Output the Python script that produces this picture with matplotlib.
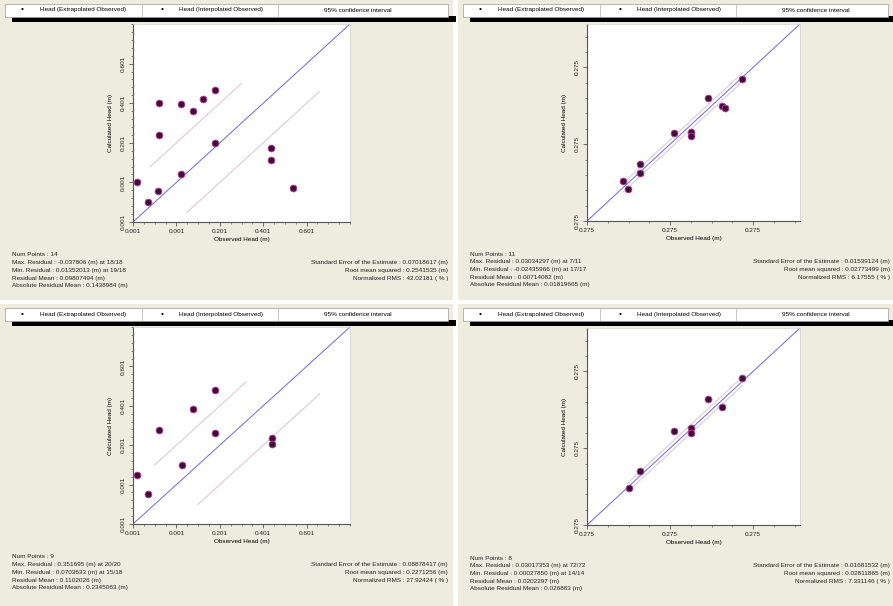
import matplotlib
matplotlib.use("Agg")
import matplotlib.pyplot as plt
from matplotlib.patches import Rectangle
from matplotlib.lines import Line2D
from matplotlib.ticker import FixedLocator, AutoMinorLocator

W, H = 893, 606

# observed vs calculated heads (normalised to each plot's axis range)
tl_obs = [0.017, 0.068, 0.117, 0.120, 0.120, 0.221, 0.221, 0.276, 0.324, 0.380, 0.380, 0.636, 0.636, 0.739]
tl_calc = [0.200, 0.100, 0.155, 0.440, 0.600, 0.240, 0.595, 0.560, 0.620, 0.665, 0.400, 0.375, 0.315, 0.170]

tr_obs = [0.171, 0.194, 0.249, 0.249, 0.410, 0.488, 0.488, 0.570, 0.632, 0.648, 0.726]
tr_calc = [0.204, 0.160, 0.246, 0.289, 0.445, 0.450, 0.430, 0.624, 0.582, 0.573, 0.723]

bl_obs = [0.017, 0.071, 0.120, 0.224, 0.278, 0.380, 0.380, 0.639, 0.639]
bl_calc = [0.247, 0.151, 0.476, 0.298, 0.584, 0.680, 0.464, 0.439, 0.405]

br_obs = [0.195, 0.250, 0.410, 0.490, 0.490, 0.569, 0.632, 0.730]
br_calc = [0.186, 0.276, 0.475, 0.494, 0.465, 0.641, 0.600, 0.745]

# 95% confidence interval: offset, upper x-range, lower x-range
tl_ci = [0.20, (0.08, 0.50), (0.25, 0.86)]
tr_ci = [0.022, (0.17, 0.73), (0.17, 0.73)]
bl_ci = [0.20, (0.10, 0.52), (0.30, 0.86)]
br_ci = [0.022, (0.19, 0.73), (0.19, 0.73)]

left_ticks = [0.0, 0.2, 0.4, 0.6, 0.8]
left_labels = ["0.001", "0.001", "0.201", "0.401", "0.601"]
right_ticks = [0.0, 0.39, 0.78]
right_labels = ["0.275", "0.275", "0.275"]

legend_items = ["Head (Extrapolated Observed)", "Head (Interpolated Observed)", "95% confidence interval"]

tl_stats = ["Num Points : 14",
            "Max. Residual : -0.037806 (m) at 18/18",
            "Min. Residual : 0.01352013 (m) at 19/18",
            "Residual Mean : 0.09807494 (m)",
            "Absolute Residual Mean : 0.1438984 (m)"]
tl_err = ["Standard Error of the Estimate : 0.07018617 (m)",
          "Root mean squared : 0.2541535 (m)",
          "Normalized RMS : 42.02181 ( % )"]
tr_stats = ["Num Points : 11",
            "Max. Residual : 0.03034297 (m) at 7/11",
            "Min. Residual : -0.02435966 (m) at 17/17",
            "Residual Mean : 0.00714082 (m)",
            "Absolute Residual Mean : 0.01819665 (m)"]
tr_err = ["Standard Error of the Estimate : 0.01539124 (m)",
          "Root mean squared : 0.02773499 (m)",
          "Normalized RMS : 6.17555 ( % )"]
bl_stats = ["Num Points : 9",
            "Max. Residual : 0.351695 (m) at 20/20",
            "Min. Residual : 0.0703633 (m) at 15/18",
            "Residual Mean : 0.1102026 (m)",
            "Absolute Residual Mean : 0.2345063 (m)"]
bl_err = ["Standard Error of the Estimate : 0.08878417 (m)",
          "Root mean squared : 0.2271256 (m)",
          "Normalized RMS : 27.92424 ( % )"]
br_stats = ["Num Points : 8",
            "Max. Residual : 0.03017353 (m) at 72/72",
            "Min. Residual : 0.00027850 (m) at 14/14",
            "Residual Mean : 0.0202297 (m)",
            "Absolute Residual Mean : 0.026883 (m)"]
br_err = ["Standard Error of the Estimate : 0.01681532 (m)",
          "Root mean squared : 0.02811865 (m)",
          "Normalized RMS : 7.331146 ( % )"]

BG = "#eeebdf"
FS = 4.6
plt.rcParams["font.family"] = ["Liberation Sans", "DejaVu Sans"]

fig = plt.figure(figsize=(W / 100, H / 100), dpi=100)
fig.patch.set_facecolor("white")


def fx(x):
    return x / W


def fy(y):
    return 1 - y / H


def rect(x0, y0, x1, y1, **kw):
    fig.add_artist(Rectangle((fx(x0), fy(y1)), fx(x1) - fx(x0), fy(y0) - fy(y1),
                             transform=fig.transFigure, **kw))


def panel(px0, px1, py0, py1, ax_x, ax_y, obs, calc, ci, ticks, labels, stats, err, err_right):
    # beige panel background
    rect(px0, py0, px1, py1, facecolor=BG, edgecolor="none", zorder=0)

    # legend strip with black shadow bar
    rect(px0 + 12, py0 + 16, px1 + 3, py0 + 22, facecolor="black", edgecolor="none", zorder=1)
    rect(px0 + 5, py0 + 4, px1 - 5, py0 + 17, facecolor="white", edgecolor="#9a9a9a", lw=0.5, zorder=2)
    ly = fy(py0 + 10)
    fig.text(fx(px0 + 22), ly, "\u2022", fontsize=6, ha="center", va="center", zorder=3)
    fig.text(fx(px0 + 40), ly, legend_items[0], fontsize=FS, ha="left", va="center", zorder=3)
    fig.text(fx(px0 + 162), ly, "\u2022", fontsize=6, ha="center", va="center", zorder=3)
    fig.text(fx(px0 + 179), ly, legend_items[1], fontsize=FS, ha="left", va="center", zorder=3)
    fig.text(fx(px0 + 358), ly, legend_items[2], fontsize=FS, ha="center", va="center", zorder=3)
    for sx in (142, 278):
        fig.add_artist(Line2D([fx(px0 + sx)] * 2, [fy(py0 + 5), fy(py0 + 16)],
                              transform=fig.transFigure, color="#b0b0b0", lw=0.5, zorder=3))

    ax = fig.add_axes([fx(ax_x[0]), fy(ax_y[1]), fx(ax_x[1]) - fx(ax_x[0]), fy(ax_y[0]) - fy(ax_y[1])])
    ax.set_facecolor("white")
    ax.set_xlim(0, 1)
    ax.set_ylim(0, 1)

    ax.plot([0, 1], [0, 1], color="#7b7bd8", lw=0.8, zorder=2)
    off, up, lo = ci
    ax.plot(up, [up[0] + off, up[1] + off], color="#e2cedc", lw=0.9, zorder=1)
    ax.plot(lo, [lo[0] - off, lo[1] - off], color="#e2cedc", lw=0.9, zorder=1)

    ax.scatter(obs, calc, s=24, color="#3b1236", edgecolors="#c23aa0", linewidths=0.6, zorder=3)

    ax.xaxis.set_major_locator(FixedLocator(ticks))
    ax.yaxis.set_major_locator(FixedLocator(ticks))
    ax.set_xticklabels(labels)
    ax.set_yticklabels(labels, rotation=90, va="center")
    ax.xaxis.set_minor_locator(AutoMinorLocator(4))
    ax.yaxis.set_minor_locator(AutoMinorLocator(5))
    ax.tick_params(which="major", direction="out", length=3, width=0.6, labelsize=FS, pad=2,
                   color="#555555", labelcolor="#222222")
    ax.tick_params(which="minor", direction="out", length=1.6, width=0.5, color="#555555")
    for s in ("left", "bottom"):
        ax.spines[s].set_color("#555555")
        ax.spines[s].set_linewidth(0.8)
    for s in ("top", "right"):
        ax.spines[s].set_color("#d0d0d0")
        ax.spines[s].set_linewidth(0.5)
    ax.set_xlabel("Observed Head (m)", fontsize=FS, labelpad=2)
    ax.set_ylabel("Calculated Head (m)", fontsize=FS, labelpad=6)

    # statistics block
    base = ax_y[1] + 33
    for i, t in enumerate(stats):
        fig.text(fx(px0 + 12), fy(base + i * 7.7), t, fontsize=FS, ha="left", va="center", color="#222222")
    for i, t in enumerate(err):
        fig.text(fx(err_right), fy(base + (i + 1) * 7.7), t, fontsize=FS, ha="right", va="center", color="#222222")


panel(0, 453, 0, 300, (133, 350), (24, 222), tl_obs, tl_calc, tl_ci, left_ticks, left_labels,
      tl_stats, tl_err, 448)
panel(458, 893, 0, 300, (587, 800), (24, 221), tr_obs, tr_calc, tr_ci, right_ticks, right_labels,
      tr_stats, tr_err, 890)
panel(0, 453, 304, 606, (133, 350), (327, 524), bl_obs, bl_calc, bl_ci, left_ticks, left_labels,
      bl_stats, bl_err, 448)
panel(458, 893, 304, 606, (587, 800), (328, 525), br_obs, br_calc, br_ci, right_ticks, right_labels,
      br_stats, br_err, 890)

fig.savefig("out.png", dpi=100, facecolor=fig.get_facecolor())
